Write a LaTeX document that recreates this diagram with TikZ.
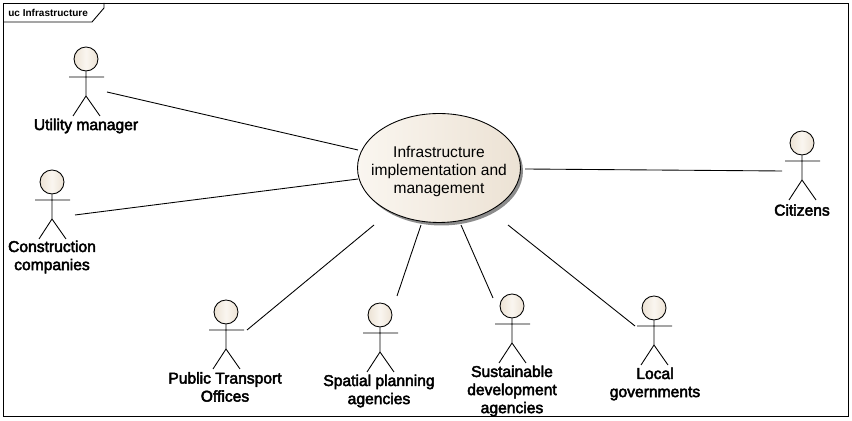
\documentclass[tikz,border=0pt]{standalone}
\usepackage{fontspec}
\setmainfont{Liberation Sans}
\newfontfamily\actorfont[FakeBold=3]{Liberation Sans}
\usetikzlibrary{shapes.geometric,shadows}

\definecolor{paleleft}{RGB}{250,246,240}
\definecolor{paleright}{RGB}{236,226,212}

\tikzset{
	usecase/.style={shape=ellipse,draw=black,line width=0.5pt,minimum width=3.26cm,minimum height=2.18cm,
		left color=paleleft,right color=paleright,align=center,font=\fontsize{8.85}{10.3}\selectfont,
		inner xsep=-0.3cm,inner ysep=0pt,
		drop shadow={shadow xshift=0.05cm,shadow yshift=-0.06cm,fill=black!45,opacity=1}},
	actorhead/.style={shape=circle,draw=black,line width=0.5pt,minimum size=0.48cm,inner sep=0pt,
		left color=paleright,right color=paleright,middle color=paleleft},
	actorlabel/.style={align=center,inner sep=0pt,font=\actorfont\fontsize{8.9}{10.3}\selectfont},
	assoc/.style={line width=0.5pt},
	pics/actor/.style={code={
		\node[actorhead] (-head) at (0,0) {};
		\draw[assoc] (-head.south) -- (0,37) (-17,18) -- (18,18) (-13,57) -- (0,37) -- (14,57);
	}}
}

\begin{document}
\begin{tikzpicture}[x=0.02cm,y=-0.02cm]
	\useasboundingbox (0,0) rectangle (852,421);

	% frame and its tab
	\coordinate (nw) at (3,3);
	\coordinate (se) at (848,416);
	\draw[line width=0.5pt] (nw) rectangle (se);
	\draw[line width=0.5pt] (3,22) -- (92,22) -- (104,8) -- (104,3);
	\node[anchor=west,inner sep=0pt,font=\bfseries\fontsize{5.7}{6}\selectfont] (frametitle) at (8,13) {uc Infrastructure};

	\node[usecase] (uc) at (439,168) {\rule{0pt}{10.2pt}Infrastructure\\implementation and\\management};

	\pic (um) at (86,59) {actor};
	\pic (cc) at (52,182) {actor};
	\pic (pt) at (226,312) {actor};
	\pic (sp) at (380,315) {actor};
	\pic (sd) at (512,306) {actor};
	\pic (lg) at (654,308) {actor};
	\pic (ci) at (802,143) {actor};

	\node[actorlabel] (umlabel) at (86,126) {Utility manager};
	\node[actorlabel] (cclabel) at (52,257) {Construction\\companies};
	\node[actorlabel] (ptlabel) at (225,387) {Public Transport\\Offices};
	\node[actorlabel] (splabel) at (379,391) {Spatial planning\\agencies};
	\node[actorlabel] (sdlabel) at (512,391) {Sustainable\\development\\agencies};
	\node[actorlabel] (lglabel) at (655,384) {Local\\governments};
	\node[actorlabel] (cilabel) at (802,210) {Citizens};

	% free ends of the associations
	\coordinate (umend) at (107,92);
	\coordinate (ccend) at (75,215);
	\coordinate (ptend) at (247,330);
	\coordinate (spend) at (397,296);
	\coordinate (sdend) at (493,298);
	\coordinate (lgend) at (635,326);
	\coordinate (ciend) at (782,171);
	\coordinate (ucum) at (358,150);
	\coordinate (uccc) at (358,179);
	\coordinate (ucpt) at (374,225);
	\coordinate (ucsp) at (421,225);
	\coordinate (ucsd) at (461,225);
	\coordinate (uclg) at (508,225);
	\coordinate (ucci) at (525,169);

	\path[assoc] (umend) edge (ucum);
	\path[assoc] (ccend) edge (uccc);
	\path[assoc] (ptend) edge (ucpt);
	\path[assoc] (spend) edge (ucsp);
	\path[assoc] (sdend) edge (ucsd);
	\path[assoc] (lgend) edge (uclg);
	\path[assoc] (ciend) edge (ucci);
\end{tikzpicture}
\end{document}
